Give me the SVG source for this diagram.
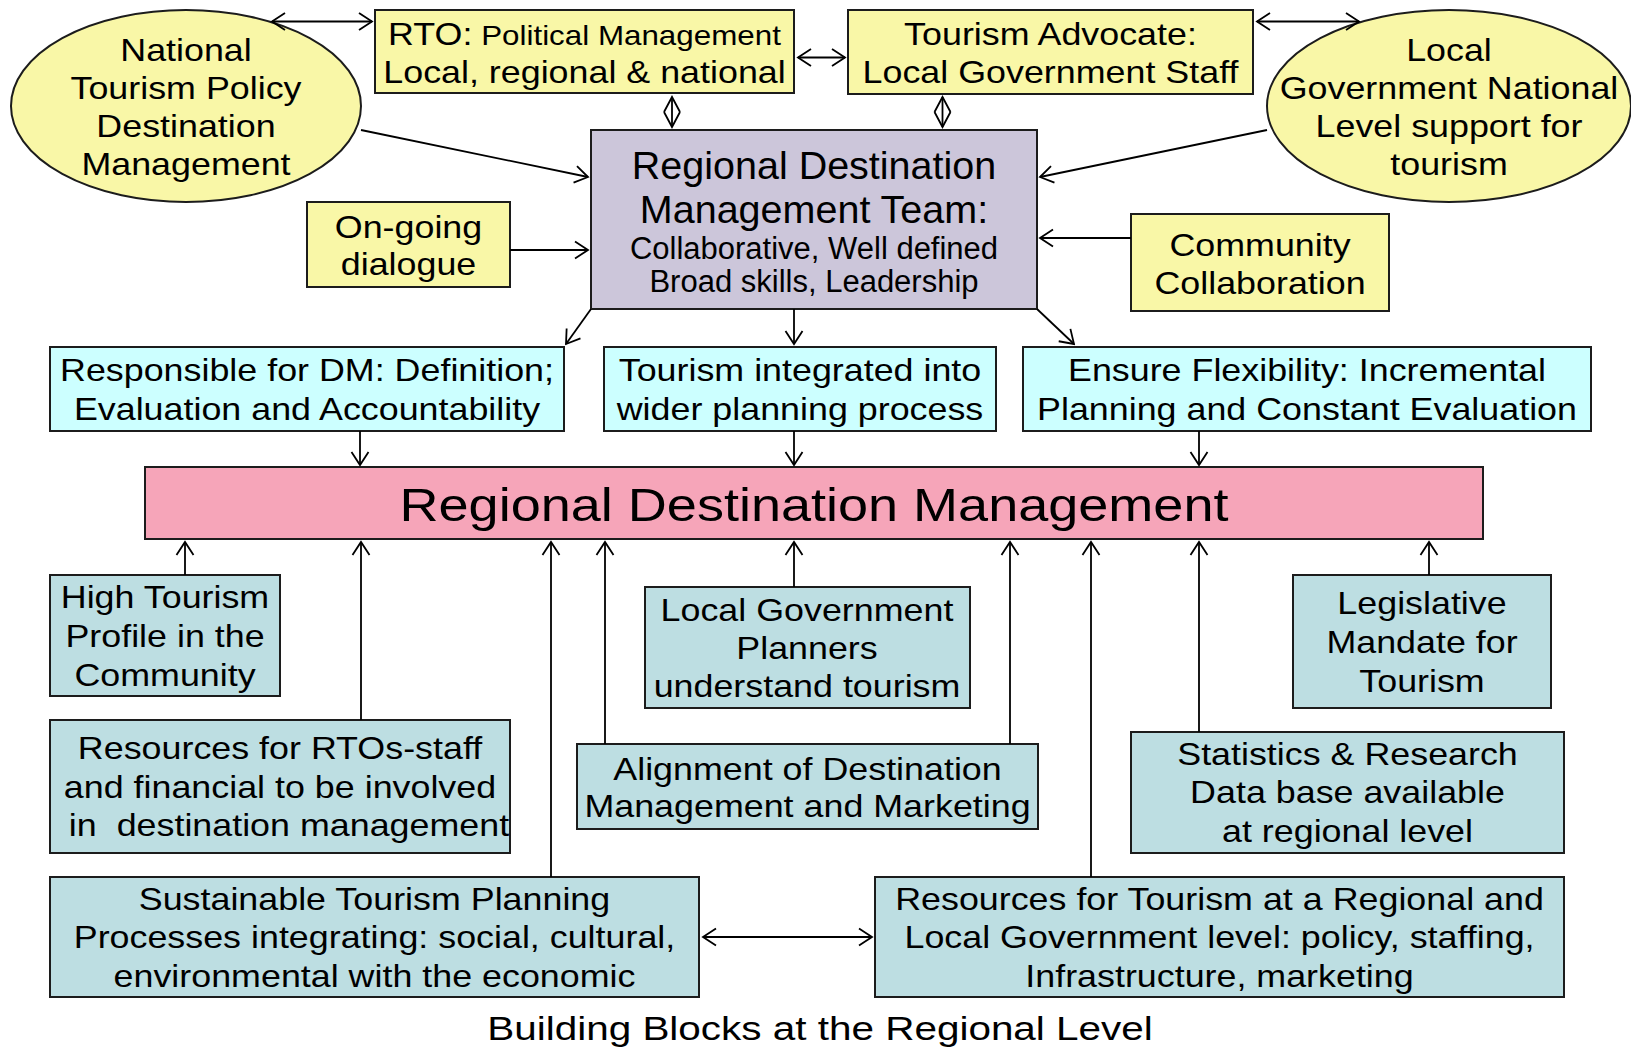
<svg xmlns="http://www.w3.org/2000/svg" width="1631" height="1049" viewBox="0 0 1631 1049">
<defs>
<style>
.box{stroke:#1c1c1c;stroke-width:2}
.y{fill:#F9F7A7}
.p{fill:#CCC6DA}
.c{fill:#CCFFFF}
.k{fill:#F6A5B9}
.g{fill:#BDDEE2}
text{font-family:"Liberation Sans",Arial,Helvetica,sans-serif;fill:#000;text-anchor:middle}
.f32{font-size:32px}
.con line{stroke:#000;stroke-width:1.8;fill:none}
</style>
<marker id="ah" viewBox="-16 -10 18 20" refX="0" refY="0" markerWidth="18" markerHeight="20" markerUnits="userSpaceOnUse" orient="auto-start-reverse">
<path d="M-13,-8.5 L0,0 L-13,8.5" fill="none" stroke="#000" stroke-width="1.8"/>
</marker>
<marker id="ahd" viewBox="-17 -10 19 20" refX="0" refY="0" markerWidth="19" markerHeight="20" markerUnits="userSpaceOnUse" orient="auto-start-reverse">
<path d="M-15,-8 L0,0 L-15,8" fill="none" stroke="#000" stroke-width="1.8"/>
</marker>
</defs>
<rect x="0" y="0" width="1631" height="1049" fill="#fff"/>

<g id="n-national">
<ellipse class="box y" cx="186" cy="106" rx="175" ry="96"/>
<text class="f32" transform="translate(186 0) scale(1.12 1)"><tspan x="0" y="61">National</tspan><tspan x="0" y="99">Tourism Policy</tspan><tspan x="0" y="137">Destination</tspan><tspan x="0" y="175">Management</tspan></text>
</g>

<g id="n-rto">
<rect class="box y" x="375" y="10" width="419" height="83"/>
<text class="f32" transform="translate(584.5 0) scale(1.12 1)"><tspan x="0" y="45">RTO:<tspan font-size="28"> Political Management</tspan></tspan><tspan x="0" y="83">Local, regional &amp; national</tspan></text>
</g>

<g id="n-advocate">
<rect class="box y" x="848" y="10" width="405" height="84"/>
<text class="f32" transform="translate(1050.5 0) scale(1.12 1)"><tspan x="0" y="45">Tourism Advocate:</tspan><tspan x="0" y="83">Local Government Staff</tspan></text>
</g>

<g id="n-localgov">
<ellipse class="box y" cx="1449" cy="106" rx="182" ry="96"/>
<text class="f32" transform="translate(1449 0) scale(1.12 1)"><tspan x="0" y="61">Local</tspan><tspan x="0" y="99">Government National</tspan><tspan x="0" y="137">Level support for</tspan><tspan x="0" y="175">tourism</tspan></text>
</g>

<g id="n-rdmt">
<rect class="box p" x="591" y="130" width="446" height="179"/>
<text font-size="39.5"><tspan x="814" y="179">Regional Destination</tspan><tspan x="814" y="223">Management Team:</tspan></text>
<text font-size="31"><tspan x="814" y="259">Collaborative, Well defined</tspan><tspan x="814" y="292">Broad skills, Leadership</tspan></text>
</g>

<g id="n-dialogue">
<rect class="box y" x="307" y="202" width="203" height="85"/>
<text class="f32" transform="translate(408.5 0) scale(1.12 1)"><tspan x="0" y="238">On-going</tspan><tspan x="0" y="275">dialogue</tspan></text>
</g>

<g id="n-community">
<rect class="box y" x="1131" y="214" width="258" height="97"/>
<text class="f32" transform="translate(1260 0) scale(1.12 1)"><tspan x="0" y="256">Community</tspan><tspan x="0" y="294">Collaboration</tspan></text>
</g>

<g id="n-responsible">
<rect class="box c" x="50" y="347" width="514" height="84"/>
<text class="f32" transform="translate(307 0) scale(1.12 1)"><tspan x="0" y="381.5">Responsible for DM: Definition;</tspan><tspan x="0" y="420">Evaluation and Accountability</tspan></text>
</g>

<g id="n-integrated">
<rect class="box c" x="604" y="347" width="392" height="84"/>
<text class="f32" transform="translate(800 0) scale(1.12 1)"><tspan x="0" y="381.5">Tourism integrated into</tspan><tspan x="0" y="420">wider planning process</tspan></text>
</g>

<g id="n-flexibility">
<rect class="box c" x="1023" y="347" width="568" height="84"/>
<text class="f32" transform="translate(1307 0) scale(1.12 1)"><tspan x="0" y="381.5">Ensure Flexibility: Incremental</tspan><tspan x="0" y="420">Planning and Constant Evaluation</tspan></text>
</g>

<g id="n-rdm">
<rect class="box k" x="145" y="467" width="1338" height="72"/>
<text font-size="47" transform="translate(814 0) scale(1.15 1)"><tspan x="0" y="521">Regional Destination Management</tspan></text>
</g>

<g id="n-profile">
<rect class="box g" x="50" y="575" width="230" height="121"/>
<text class="f32" transform="translate(165 0) scale(1.12 1)"><tspan x="0" y="608">High Tourism</tspan><tspan x="0" y="647">Profile in the</tspan><tspan x="0" y="686">Community</tspan></text>
</g>

<g id="n-planners">
<rect class="box g" x="645" y="587" width="325" height="121"/>
<text class="f32" transform="translate(807 0) scale(1.12 1)"><tspan x="0" y="621">Local Government</tspan><tspan x="0" y="659">Planners</tspan><tspan x="0" y="697">understand tourism</tspan></text>
</g>

<g id="n-legislative">
<rect class="box g" x="1293" y="575" width="258" height="133"/>
<text class="f32" transform="translate(1422 0) scale(1.12 1)"><tspan x="0" y="614">Legislative</tspan><tspan x="0" y="653">Mandate for</tspan><tspan x="0" y="692">Tourism</tspan></text>
</g>

<g id="n-resources-rto">
<rect class="box g" x="50" y="720" width="460" height="133"/>
<text class="f32" transform="translate(280 0) scale(1.12 1)"><tspan x="0" y="759">Resources for RTOs-staff</tspan><tspan x="0" y="798">and financial to be involved</tspan><tspan x="8" y="836">in&#160; destination management</tspan></text>
</g>

<g id="n-alignment">
<rect class="box g" x="577" y="744" width="461" height="85"/>
<text class="f32" transform="translate(807.5 0) scale(1.12 1)"><tspan x="0" y="780">Alignment of Destination</tspan><tspan x="0" y="817">Management and Marketing</tspan></text>
</g>

<g id="n-statistics">
<rect class="box g" x="1131" y="732" width="433" height="121"/>
<text class="f32" transform="translate(1347.5 0) scale(1.12 1)"><tspan x="0" y="765">Statistics &amp; Research</tspan><tspan x="0" y="803">Data base available</tspan><tspan x="0" y="842">at regional level</tspan></text>
</g>

<g id="n-sustainable">
<rect class="box g" x="50" y="877" width="649" height="120"/>
<text class="f32" transform="translate(374.5 0) scale(1.12 1)"><tspan x="0" y="910">Sustainable Tourism Planning</tspan><tspan x="0" y="948">Processes integrating: social, cultural,</tspan><tspan x="0" y="987">environmental with the economic</tspan></text>
</g>

<g id="n-resources-tourism">
<rect class="box g" x="875" y="877" width="689" height="120"/>
<text class="f32" transform="translate(1219.5 0) scale(1.12 1)"><tspan x="0" y="910">Resources for Tourism at a Regional and</tspan><tspan x="0" y="948">Local Government level: policy, staffing,</tspan><tspan x="0" y="987">Infrastructure, marketing</tspan></text>
</g>

<g id="caption">
<text font-size="34" transform="translate(820 0) scale(1.19 1)"><tspan x="0" y="1040">Building Blocks at the Regional Level</tspan></text>
</g>

<g id="connectors" class="con">
<line x1="272" y1="21.5" x2="372" y2="21.5" marker-start="url(#ah)" marker-end="url(#ah)"/>
<line x1="798" y1="57.5" x2="845" y2="57.5" marker-start="url(#ah)" marker-end="url(#ah)"/>
<line x1="1257" y1="21.5" x2="1359" y2="21.5" marker-start="url(#ah)" marker-end="url(#ah)"/>
<line x1="672" y1="97" x2="672" y2="127" marker-start="url(#ahd)" marker-end="url(#ahd)"/>
<line x1="942.5" y1="97" x2="942.5" y2="127" marker-start="url(#ahd)" marker-end="url(#ahd)"/>
<line x1="361" y1="130" x2="588" y2="177" marker-end="url(#ah)"/>
<line x1="1267" y1="130" x2="1040" y2="177" marker-end="url(#ah)"/>
<line x1="510" y1="250" x2="588" y2="250" marker-end="url(#ah)"/>
<line x1="1131" y1="238" x2="1040" y2="238" marker-end="url(#ah)"/>
<line x1="591" y1="309" x2="566" y2="344" marker-end="url(#ah)"/>
<line x1="794" y1="309" x2="794" y2="344" marker-end="url(#ah)"/>
<line x1="1037" y1="309" x2="1074" y2="344" marker-end="url(#ah)"/>
<line x1="360" y1="431" x2="360" y2="465" marker-end="url(#ah)"/>
<line x1="794" y1="431" x2="794" y2="465" marker-end="url(#ah)"/>
<line x1="1199" y1="431" x2="1199" y2="465" marker-end="url(#ah)"/>
<line x1="185" y1="575" x2="185" y2="542" marker-end="url(#ah)"/>
<line x1="361" y1="720" x2="361" y2="542" marker-end="url(#ah)"/>
<line x1="551" y1="877" x2="551" y2="542" marker-end="url(#ah)"/>
<line x1="605" y1="744" x2="605" y2="542" marker-end="url(#ah)"/>
<line x1="794" y1="587" x2="794" y2="542" marker-end="url(#ah)"/>
<line x1="1010" y1="744" x2="1010" y2="542" marker-end="url(#ah)"/>
<line x1="1091" y1="877" x2="1091" y2="542" marker-end="url(#ah)"/>
<line x1="1199" y1="732" x2="1199" y2="542" marker-end="url(#ah)"/>
<line x1="1429" y1="575" x2="1429" y2="542" marker-end="url(#ah)"/>
<line x1="703" y1="937" x2="872" y2="937" marker-start="url(#ah)" marker-end="url(#ah)"/>
</g>
</svg>
